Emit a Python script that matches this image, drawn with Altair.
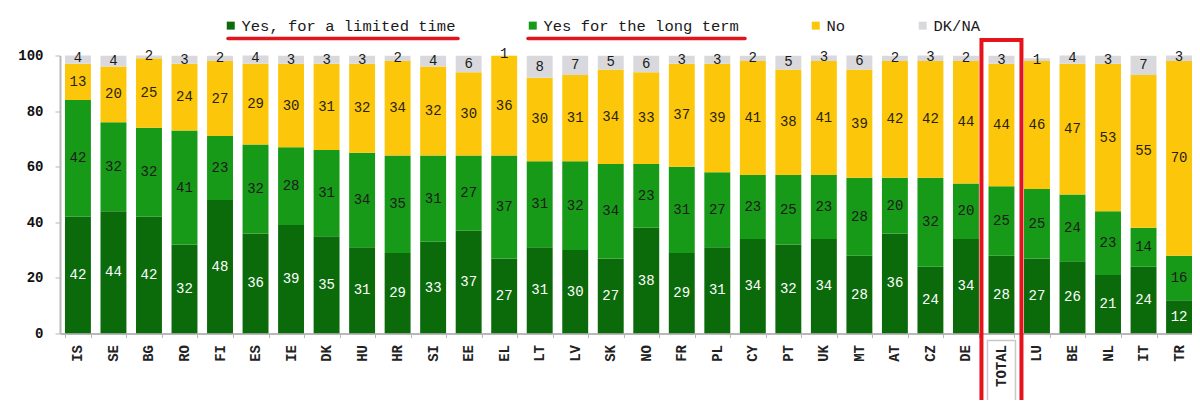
import altair as alt
import pandas as pd

countries = ["IS", "SE", "BG", "RO", "FI", "ES", "IE", "DK", "HU", "HR", "SI", "EE", "EL", "LT",
             "LV", "SK", "NO", "FR", "PL", "CY", "PT", "UK", "MT", "AT", "CZ", "DE", "TOTAL",
             "LU", "BE", "NL", "IT", "TR"]
limited = [42, 44, 42, 32, 48, 36, 39, 35, 31, 29, 33, 37, 27, 31, 30, 27, 38, 29, 31, 34, 32, 34,
           28, 36, 24, 34, 28, 27, 26, 21, 24, 12]
longterm = [42, 32, 32, 41, 23, 32, 28, 31, 34, 35, 31, 27, 37, 31, 32, 34, 23, 31, 27, 23, 25, 23,
            28, 20, 32, 20, 25, 25, 24, 23, 14, 16]
no = [13, 20, 25, 24, 27, 29, 30, 31, 32, 34, 32, 30, 36, 30, 31, 34, 33, 37, 39, 41, 38, 41,
      39, 42, 42, 44, 44, 46, 47, 53, 55, 70]
dkna = [4, 4, 2, 3, 2, 4, 3, 3, 3, 2, 4, 6, 1, 8, 7, 5, 6, 3, 3, 2, 5, 3, 6, 2, 3, 2, 3, 1, 4,
        3, 7, 3]

categories = ["Yes, for a limited time", "Yes for the long term", "No", "DK/NA"]
bar_colors = ["#0b6b0b", "#179a17", "#fcc70a", "#d9d9dd"]
label_colors = ["#ffffff", "#1a1a1a", "#2a1f10", "#1a1a1a"]

rows = []
for i, c in enumerate(countries):
    for k, (cat, series) in enumerate(zip(categories, [limited, longterm, no, dkna])):
        rows.append({"country": c, "category": cat, "value": series[i], "order": k})
df = pd.DataFrame(rows)

FONT = "Liberation Mono"

x_scale = alt.Scale(paddingInner=0.27, paddingOuter=0.14, range=[0, 1137])
x_enc = alt.X("country:N", sort=countries, scale=x_scale,
              axis=alt.Axis(title=None, labelAngle=-90, labelFont=FONT, labelFontSize=14,
                            labelFontWeight="bold", labelColor="#222222", labelPadding=7,
                            tickBand="extent", tickSize=4, tickColor="#b8b8b8",
                            domainColor="#b8b8b8", domainWidth=2))
y_scale = alt.Scale(domain=[0, 100], nice=False)

base = alt.Chart(df)

bars = base.mark_bar(clip=True).encode(
    x=x_enc,
    y=alt.Y("value:Q", stack="zero", scale=y_scale,
            axis=alt.Axis(title=None, values=[0, 20, 40, 60, 80, 100], labelFont=FONT,
                          labelFontSize=14, labelFontWeight="bold", labelColor="#111111",
                          labelPadding=12, tickSize=5, tickColor="#b8b8b8",
                          domainColor="#b8b8b8", domainWidth=2, grid=False)),
    color=alt.Color("category:N", scale=alt.Scale(domain=categories, range=bar_colors),
                    legend=alt.Legend(title=None, orient="none", direction="horizontal",
                                      legendX=163, legendY=-38, symbolType="square",
                                      symbolSize=64, symbolStrokeWidth=0, labelFont=FONT,
                                      labelFontSize=15.5, labelColor="#1a1a1a",
                                      labelOffset=3, columnPadding=69, labelLimit=400)),
    order=alt.Order("order:Q"),
)

labels = base.transform_stack(
    stack="value", groupby=["country"], sort=[alt.SortField("order")], as_=["y0", "y1"]
).transform_calculate(mid="(datum.y0 + datum.y1) / 2").mark_text(
    font=FONT, fontSize=14, baseline="middle", align="center"
).encode(
    x=alt.X("country:N", sort=countries),
    y=alt.Y("mid:Q", scale=y_scale),
    text=alt.Text("value:Q"),
    color=alt.Color("category:N", scale=alt.Scale(domain=categories, range=label_colors),
                    legend=None),
)

box_df = pd.DataFrame({"country": ["TOTAL"], "top": [105.6], "bottom": [-45]})
red_box = alt.Chart(box_df).mark_bar(width=40, filled=False, stroke="#e3141c",
                                      strokeWidth=4).encode(
    x=alt.X("country:N", sort=countries),
    y=alt.Y("top:Q", scale=y_scale),
    y2="bottom:Q",
)

lbl_df = pd.DataFrame({"country": ["TOTAL"], "top": [-2.5], "bottom": [-45]})
label_box = alt.Chart(lbl_df).mark_bar(width=28, filled=False, stroke="#c8c8c8",
                                        strokeWidth=1.5).encode(
    x=alt.X("country:N", sort=countries),
    y=alt.Y("top:Q", scale=y_scale),
    y2="bottom:Q",
)

ul_df = pd.DataFrame({"x": [168, 468], "x2": [398, 685]})
underlines = alt.Chart(ul_df).mark_rule(color="#e3141c", strokeWidth=3.5,
                                         strokeCap="round").encode(
    x=alt.X("x:Q", scale=None), x2="x2:Q", y=alt.value(-17)
)

chart = alt.layer(bars, labels, label_box, red_box, underlines).resolve_scale(
    color="independent"
).properties(
    width=1132, height=278,
    autosize=alt.AutoSizeParams(type="none"),
    padding={"left": 52, "top": 47.5, "right": 0, "bottom": 66},
    background="white",
).configure_view(stroke=None)

chart.save("out.html", embed_options={"renderer": "svg", "actions": False})
